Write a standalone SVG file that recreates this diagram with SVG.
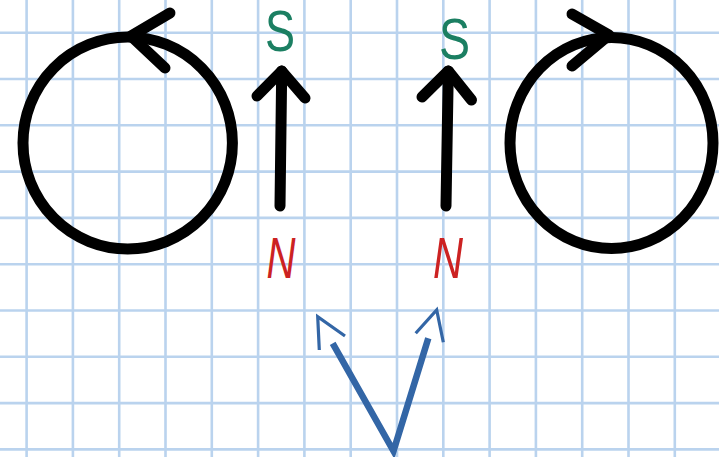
<svg xmlns="http://www.w3.org/2000/svg" width="719" height="457" viewBox="0 0 719 457">
<style>
.grid{stroke:#bad3ee;stroke-width:2.6;fill:none}
.ink{stroke:#000;stroke-width:11;fill:none;stroke-linecap:round;stroke-linejoin:round}
.blue{stroke:#3366a6;stroke-width:6.5;fill:none;stroke-linecap:butt}
.bluehead{stroke:#3366a6;stroke-width:3.2;fill:none;stroke-linecap:butt;stroke-linejoin:miter}
.s{font-family:"Liberation Sans",Arial,sans-serif;font-size:57px;fill:#1b7f62}
.n{font-family:"Liberation Sans",Arial,sans-serif;font-size:57px;font-style:italic;fill:#cc2222}
</style>
<rect width="719" height="457" fill="#ffffff"/>
<g id="grid" class="grid">
<path d="M26.6 0V457M72.9 0V457M119.2 0V457M165.5 0V457M211.8 0V457M258.1 0V457M304.4 0V457M350.7 0V457M397 0V457M443.3 0V457M489.6 0V457M535.9 0V457M582.2 0V457M628.5 0V457M674.8 0V457"/>
<path d="M0 32.7H719M0 79H719M0 125.3H719M0 171.6H719M0 217.9H719M0 264.2H719M0 310.5H719M0 356.8H719M0 403.1H719M0 449.4H719"/>
</g>
<g id="loop-left">
<ellipse class="ink" cx="127.7" cy="143" rx="104.7" ry="106"/>
<path class="ink" d="M170 13L131 36L165 68"/>
</g>
<g id="loop-right">
<ellipse class="ink" cx="611.5" cy="143" rx="101.5" ry="105.5"/>
<path class="ink" d="M572 14L609 35L572 66"/>
</g>
<g id="magnet-left">
<path class="ink" d="M280 206L281.7 71"/>
<path class="ink" d="M257 96L281.7 71L305 98"/>
<text class="s" x="280" y="51" text-anchor="middle" textLength="30" lengthAdjust="spacingAndGlyphs">S</text>
<text class="n" x="281" y="278" text-anchor="middle" textLength="29" lengthAdjust="spacingAndGlyphs">N</text>
</g>
<g id="magnet-right">
<path class="ink" d="M446 206L448.3 71"/>
<path class="ink" d="M422 97L448.3 71L471.5 100"/>
<text class="s" x="454.5" y="59" text-anchor="middle" textLength="31" lengthAdjust="spacingAndGlyphs">S</text>
<text class="n" x="448" y="278" text-anchor="middle" textLength="30" lengthAdjust="spacingAndGlyphs">N</text>
</g>
<g id="connectors">
<path class="blue" d="M332.7 343.3L393.5 451L428.3 338.3"/>
<path class="bluehead" d="M319.3 350L317.7 316.7L345 336"/>
<path class="bluehead" d="M415.7 333.3L436.7 310L443.3 342.3"/>
</g>
</svg>
